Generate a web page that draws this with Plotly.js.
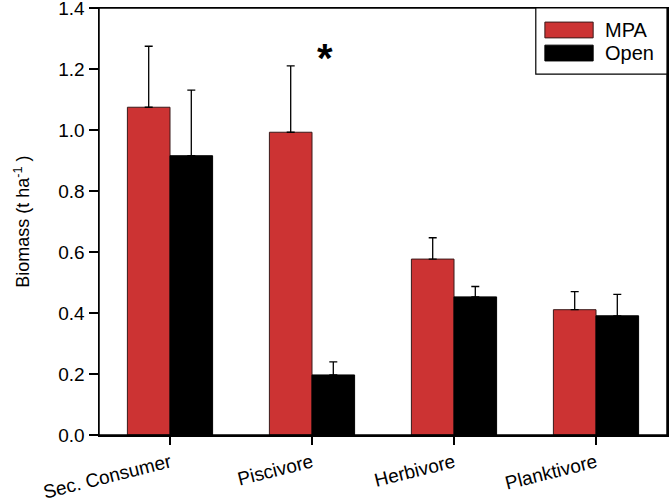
<!DOCTYPE html>
<html><head><meta charset="utf-8">
<script src="https://cdn.plot.ly/plotly-3.0.1.min.js"></script>
<style>html,body{margin:0;padding:0;background:#fff;overflow:hidden}#chart{width:670px;height:501px}</style>
</head><body><div id="chart"></div>
<script>
const categories = ["Sec. Consumer", "Piscivore", "Herbivore", "Planktivore"];
const seriesNames = ["MPA", "Open"];
const mpaValues = [1.075, 0.993, 0.577, 0.411];
const mpaErr = [0.200, 0.218, 0.070, 0.059];
const openValues = [0.916, 0.197, 0.453, 0.391];
const openErr = [0.215, 0.043, 0.034, 0.070];
const zeros = [0, 0, 0, 0];
const yTickVals = [0, 0.2, 0.4, 0.6, 0.8, 1.0, 1.2, 1.4];
const yTickText = ["0.0", "0.2", "0.4", "0.6", "0.8", "1.0", "1.2", "1.4"];

const font = "Liberation Sans, Arial, sans-serif";
const red = "#CC3333";

const traces = [
  {type: "bar", name: seriesNames[0], x: categories, y: mpaValues,
   marker: {color: red, line: {color: "#3a1a1a", width: 1}},
   error_y: {type: "data", symmetric: false, array: mpaErr, arrayminus: zeros, color: "#000", thickness: 1.3, width: 4}},
  {type: "bar", name: seriesNames[1], x: categories, y: openValues,
   marker: {color: "#000000", line: {color: "#000", width: 1}},
   error_y: {type: "data", symmetric: false, array: openErr, arrayminus: zeros, color: "#000", thickness: 1.3, width: 4}}
];

const layout = {
  width: 670, height: 501,
  margin: {l: 99, r: 3, t: 8, b: 66, autoexpand: false},
  paper_bgcolor: "#fff", plot_bgcolor: "#fff",
  barmode: "group", bargap: 0.4, bargroupgap: 0,
  font: {family: font, size: 19, color: "#000"},
  showlegend: false,
  xaxis: {type: "category", range: [-0.5, 3.5], showline: true, linecolor: "#000", linewidth: 1.5,
          ticks: "outside", ticklen: 8, tickwidth: 1.5, tickcolor: "#000", automargin: false,
          ticklabeloverflow: "allow", mirror: true,
          tickangle: -14, showgrid: false, zeroline: false, tickfont: {family: font, size: 19}},
  yaxis: {range: [0, 1.4005], tickvals: yTickVals, ticktext: yTickText, showline: true, linecolor: "#000", linewidth: 1.5,
          ticks: "outside", ticklen: 9, tickwidth: 1.5, tickcolor: "#000", automargin: false,
          ticklabeloverflow: "allow", mirror: true,
          showgrid: false, zeroline: false, tickfont: {family: font, size: 19}},
  shapes: [
    {type: "rect", xref: "paper", yref: "paper", x0: 0, x1: 1, y0: 0, y1: 1, line: {color: "#000", width: 1.5}},
    {type: "rect", xref: "paper", yref: "paper", x0: 0.769, x1: 1, y0: 0.845, y1: 1, line: {color: "#000", width: 1.2}, fillcolor: "#fff"},
    {type: "rect", xref: "paper", yref: "paper", x0: 0.785, x1: 0.870, y0: 0.930, y1: 0.967, line: {color: "#3a1a1a", width: 1}, fillcolor: red},
    {type: "rect", xref: "paper", yref: "paper", x0: 0.785, x1: 0.870, y0: 0.876, y1: 0.913, line: {color: "#000", width: 1}, fillcolor: "#000"}
  ],
  annotations: [
    {x: "Piscivore", y: 1.235, xref: "x", yref: "y", text: "<b>*</b>", showarrow: false,
     xshift: 13, font: {family: font, size: 40, color: "#000"}},
    {xref: "paper", yref: "paper", x: 0.887, y: 0.949, xanchor: "left", yanchor: "middle", text: seriesNames[0],
     showarrow: false, font: {family: font, size: 20}},
    {xref: "paper", yref: "paper", x: 0.887, y: 0.895, xanchor: "left", yanchor: "middle", text: seriesNames[1],
     showarrow: false, font: {family: font, size: 20}},
    {xref: "paper", yref: "paper", x: -0.135, y: 0.5, xanchor: "center", yanchor: "middle", textangle: -90,
     text: "Biomass (t ha<sup>-1</sup> )", showarrow: false, font: {family: font, size: 18}}
  ]
};

Plotly.newPlot("chart", traces, layout, {displayModeBar: false, staticPlot: true});
</script></body></html>
